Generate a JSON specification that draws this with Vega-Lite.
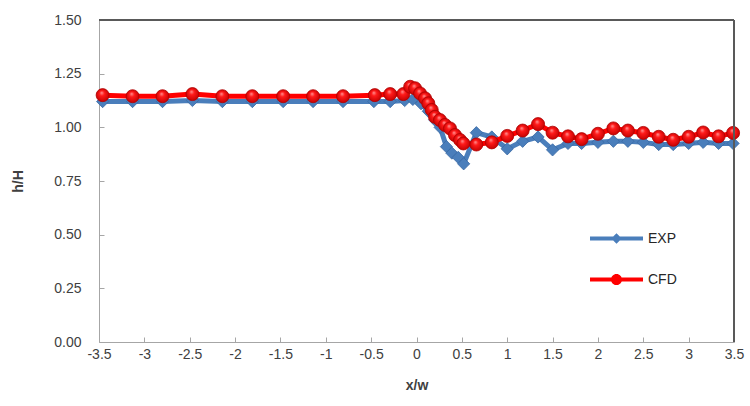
{
  "$schema": "https://vega.github.io/schema/vega-lite/v6.json",
  "width": 635,
  "height": 322,
  "autosize": {"type": "none"},
  "padding": {"left": 99, "top": 20, "right": 16, "bottom": 64},
  "background": "white",
  "config": {"view": {"stroke": null}, "font": "Liberation Sans"},
  "datasets": {
    "pts": [
      {"x": -3.46, "y": 1.12, "series": "EXP"},
      {"x": -3.13, "y": 1.12, "series": "EXP"},
      {"x": -2.8, "y": 1.12, "series": "EXP"},
      {"x": -2.47, "y": 1.125, "series": "EXP"},
      {"x": -2.14, "y": 1.12, "series": "EXP"},
      {"x": -1.81, "y": 1.12, "series": "EXP"},
      {"x": -1.47, "y": 1.12, "series": "EXP"},
      {"x": -1.14, "y": 1.12, "series": "EXP"},
      {"x": -0.81, "y": 1.12, "series": "EXP"},
      {"x": -0.47, "y": 1.12, "series": "EXP"},
      {"x": -0.29, "y": 1.12, "series": "EXP"},
      {"x": -0.13, "y": 1.125, "series": "EXP"},
      {"x": -0.04, "y": 1.13, "series": "EXP"},
      {"x": 0.05, "y": 1.11, "series": "EXP"},
      {"x": 0.13, "y": 1.075, "series": "EXP"},
      {"x": 0.2, "y": 1.035, "series": "EXP"},
      {"x": 0.26, "y": 1.0, "series": "EXP"},
      {"x": 0.33, "y": 0.91, "series": "EXP"},
      {"x": 0.39, "y": 0.88, "series": "EXP"},
      {"x": 0.46, "y": 0.86, "series": "EXP"},
      {"x": 0.52, "y": 0.83, "series": "EXP"},
      {"x": 0.66, "y": 0.975, "series": "EXP"},
      {"x": 0.83, "y": 0.955, "series": "EXP"},
      {"x": 1.0, "y": 0.9, "series": "EXP"},
      {"x": 1.17, "y": 0.935, "series": "EXP"},
      {"x": 1.34, "y": 0.955, "series": "EXP"},
      {"x": 1.5, "y": 0.895, "series": "EXP"},
      {"x": 1.67, "y": 0.925, "series": "EXP"},
      {"x": 1.82, "y": 0.925, "series": "EXP"},
      {"x": 2.0, "y": 0.93, "series": "EXP"},
      {"x": 2.17, "y": 0.935, "series": "EXP"},
      {"x": 2.33, "y": 0.935, "series": "EXP"},
      {"x": 2.5, "y": 0.93, "series": "EXP"},
      {"x": 2.67, "y": 0.92, "series": "EXP"},
      {"x": 2.83, "y": 0.92, "series": "EXP"},
      {"x": 3.0, "y": 0.925, "series": "EXP"},
      {"x": 3.16, "y": 0.93, "series": "EXP"},
      {"x": 3.33, "y": 0.925, "series": "EXP"},
      {"x": 3.49, "y": 0.925, "series": "EXP"},
      {"x": -3.46, "y": 1.15, "series": "CFD"},
      {"x": -3.13, "y": 1.145, "series": "CFD"},
      {"x": -2.8, "y": 1.145, "series": "CFD"},
      {"x": -2.47, "y": 1.155, "series": "CFD"},
      {"x": -2.14, "y": 1.145, "series": "CFD"},
      {"x": -1.81, "y": 1.145, "series": "CFD"},
      {"x": -1.47, "y": 1.145, "series": "CFD"},
      {"x": -1.14, "y": 1.145, "series": "CFD"},
      {"x": -0.81, "y": 1.145, "series": "CFD"},
      {"x": -0.46, "y": 1.15, "series": "CFD"},
      {"x": -0.29, "y": 1.155, "series": "CFD"},
      {"x": -0.145, "y": 1.155, "series": "CFD"},
      {"x": -0.07, "y": 1.189, "series": "CFD"},
      {"x": -0.016, "y": 1.182, "series": "CFD"},
      {"x": 0.039, "y": 1.158, "series": "CFD"},
      {"x": 0.094, "y": 1.135, "series": "CFD"},
      {"x": 0.13, "y": 1.112, "series": "CFD"},
      {"x": 0.168, "y": 1.081, "series": "CFD"},
      {"x": 0.204, "y": 1.049, "series": "CFD"},
      {"x": 0.259, "y": 1.034, "series": "CFD"},
      {"x": 0.314, "y": 1.011, "series": "CFD"},
      {"x": 0.369, "y": 0.995, "series": "CFD"},
      {"x": 0.424, "y": 0.964, "series": "CFD"},
      {"x": 0.48, "y": 0.941, "series": "CFD"},
      {"x": 0.516, "y": 0.925, "series": "CFD"},
      {"x": 0.66, "y": 0.92, "series": "CFD"},
      {"x": 0.83, "y": 0.93, "series": "CFD"},
      {"x": 1.0, "y": 0.96, "series": "CFD"},
      {"x": 1.17, "y": 0.985, "series": "CFD"},
      {"x": 1.34, "y": 1.015, "series": "CFD"},
      {"x": 1.5, "y": 0.975, "series": "CFD"},
      {"x": 1.67, "y": 0.958, "series": "CFD"},
      {"x": 1.82, "y": 0.945, "series": "CFD"},
      {"x": 2.0, "y": 0.97, "series": "CFD"},
      {"x": 2.17, "y": 0.995, "series": "CFD"},
      {"x": 2.33, "y": 0.985, "series": "CFD"},
      {"x": 2.5, "y": 0.974, "series": "CFD"},
      {"x": 2.67, "y": 0.956, "series": "CFD"},
      {"x": 2.83, "y": 0.942, "series": "CFD"},
      {"x": 3.0, "y": 0.956, "series": "CFD"},
      {"x": 3.16, "y": 0.976, "series": "CFD"},
      {"x": 3.33, "y": 0.958, "series": "CFD"},
      {"x": 3.49, "y": 0.974, "series": "CFD"}
    ]
  },
  "layer": [
    {
      "data": {"name": "pts"},
      "encoding": {
        "x": {
          "field": "x", "type": "quantitative",
          "scale": {"domain": [-3.5, 3.5], "nice": false, "zero": false},
          "axis": {
            "values": [-3.5, -3, -2.5, -2, -1.5, -1, -0.5, 0, 0.5, 1, 1.5, 2, 2.5, 3, 3.5],
            "labelExpr": "'' + datum.value",
            "title": "x/w", "grid": false,
            "domainColor": "#a6a6a6", "tickColor": "#a6a6a6", "tickSize": -5,
            "labelPadding": 10, "labelFontSize": 14, "labelColor": "#404040",
            "labelFlush": false, "labelOverlap": false,
            "titleFontSize": 14, "titleFontWeight": "bold", "titleColor": "#404040", "titlePadding": 17
          }
        },
        "y": {
          "field": "y", "type": "quantitative",
          "scale": {"domain": [0, 1.5], "nice": false, "zero": true},
          "axis": {
            "values": [0, 0.25, 0.5, 0.75, 1, 1.25, 1.5],
            "format": ".2f", "title": "h/H", "grid": false,
            "domainColor": "#a6a6a6", "tickColor": "#a6a6a6", "tickSize": -5,
            "labelPadding": 23, "labelFontSize": 14, "labelColor": "#404040",
            "labelFlush": false, "labelOverlap": false,
            "titleFontSize": 14, "titleFontWeight": "bold", "titleColor": "#404040", "titlePadding": 28
          }
        }
      },
      "layer": [
        {
          "transform": [{"filter": "datum.series === 'EXP'"}],
          "mark": {"type": "line", "strokeWidth": 5, "strokeJoin": "round", "strokeCap": "round"},
          "encoding": {
            "color": {
              "field": "series", "type": "nominal",
              "scale": {"domain": ["EXP", "CFD"], "range": ["#4a7ebb", "#ff0000"]},
              "legend": {
                "orient": "none", "legendX": 491, "legendY": 192, "title": null, "padding": 0,
                "rowPadding": 7, "labelFontSize": 14, "labelColor": "#262626", "labelOffset": 5,
                "symbolSize": 2809,
                "encode": {
                  "symbols": {
                    "update": {
                      "shape": {"signal": "datum.value === 'EXP' ? 'M-1,-0.08L1,-0.08L1,0.08L-1,0.08Z M0,-0.2L0.2,0L0,0.2L-0.2,0Z' : 'M-1,-0.08L1,-0.08L1,0.08L-1,0.08Z M-0.21,0A0.21,0.21 0 1,1 0.21,0A0.21,0.21 0 1,1 -0.21,0Z'"},
                      "fill": {"signal": "datum.value === 'EXP' ? '#4a7ebb' : '#ff0000'"},
                      "stroke": {"value": "transparent"},
                      "strokeWidth": {"value": 0},
                      "size": {"value": 2809},
                      "opacity": {"value": 1}
                    }
                  }
                }
              }
            }
          }
        },
        {
          "transform": [{"filter": "datum.series === 'EXP'"}],
          "mark": {"type": "point", "shape": "diamond", "filled": true, "size": 150, "fill": "#4a7ebb", "stroke": "#3868a3", "strokeWidth": 0.8, "opacity": 1}
        },
        {
          "transform": [{"filter": "datum.series === 'CFD'"}],
          "mark": {"type": "line", "strokeWidth": 5, "strokeJoin": "round", "strokeCap": "round"},
          "encoding": {
            "color": {
              "field": "series", "type": "nominal",
              "scale": {"domain": ["EXP", "CFD"], "range": ["#4a7ebb", "#ff0000"]}
            }
          }
        },
        {
          "transform": [{"filter": "datum.series === 'CFD'"}],
          "mark": {
            "type": "point", "shape": "circle", "filled": true, "size": 170, "opacity": 1,
            "fill": {"gradient": "radial", "x1": 0.42, "y1": 0.3, "r1": 0, "x2": 0.5, "y2": 0.5, "r2": 0.55,
              "stops": [{"offset": 0, "color": "#ff9a9a"}, {"offset": 0.35, "color": "#ff1a1a"}, {"offset": 1, "color": "#c00000"}]},
            "stroke": "#b00000", "strokeWidth": 0.8
          }
        }
      ]
    },
    {
      "data": {"values": [{}]},
      "mark": {"type": "rule", "color": "#595959", "strokeWidth": 2},
      "encoding": {"y": {"datum": 1.5, "type": "quantitative"}}
    },
    {
      "data": {"values": [{}]},
      "mark": {"type": "rule", "color": "#595959", "strokeWidth": 2},
      "encoding": {"x": {"datum": 3.5, "type": "quantitative"}}
    }
  ]
}
